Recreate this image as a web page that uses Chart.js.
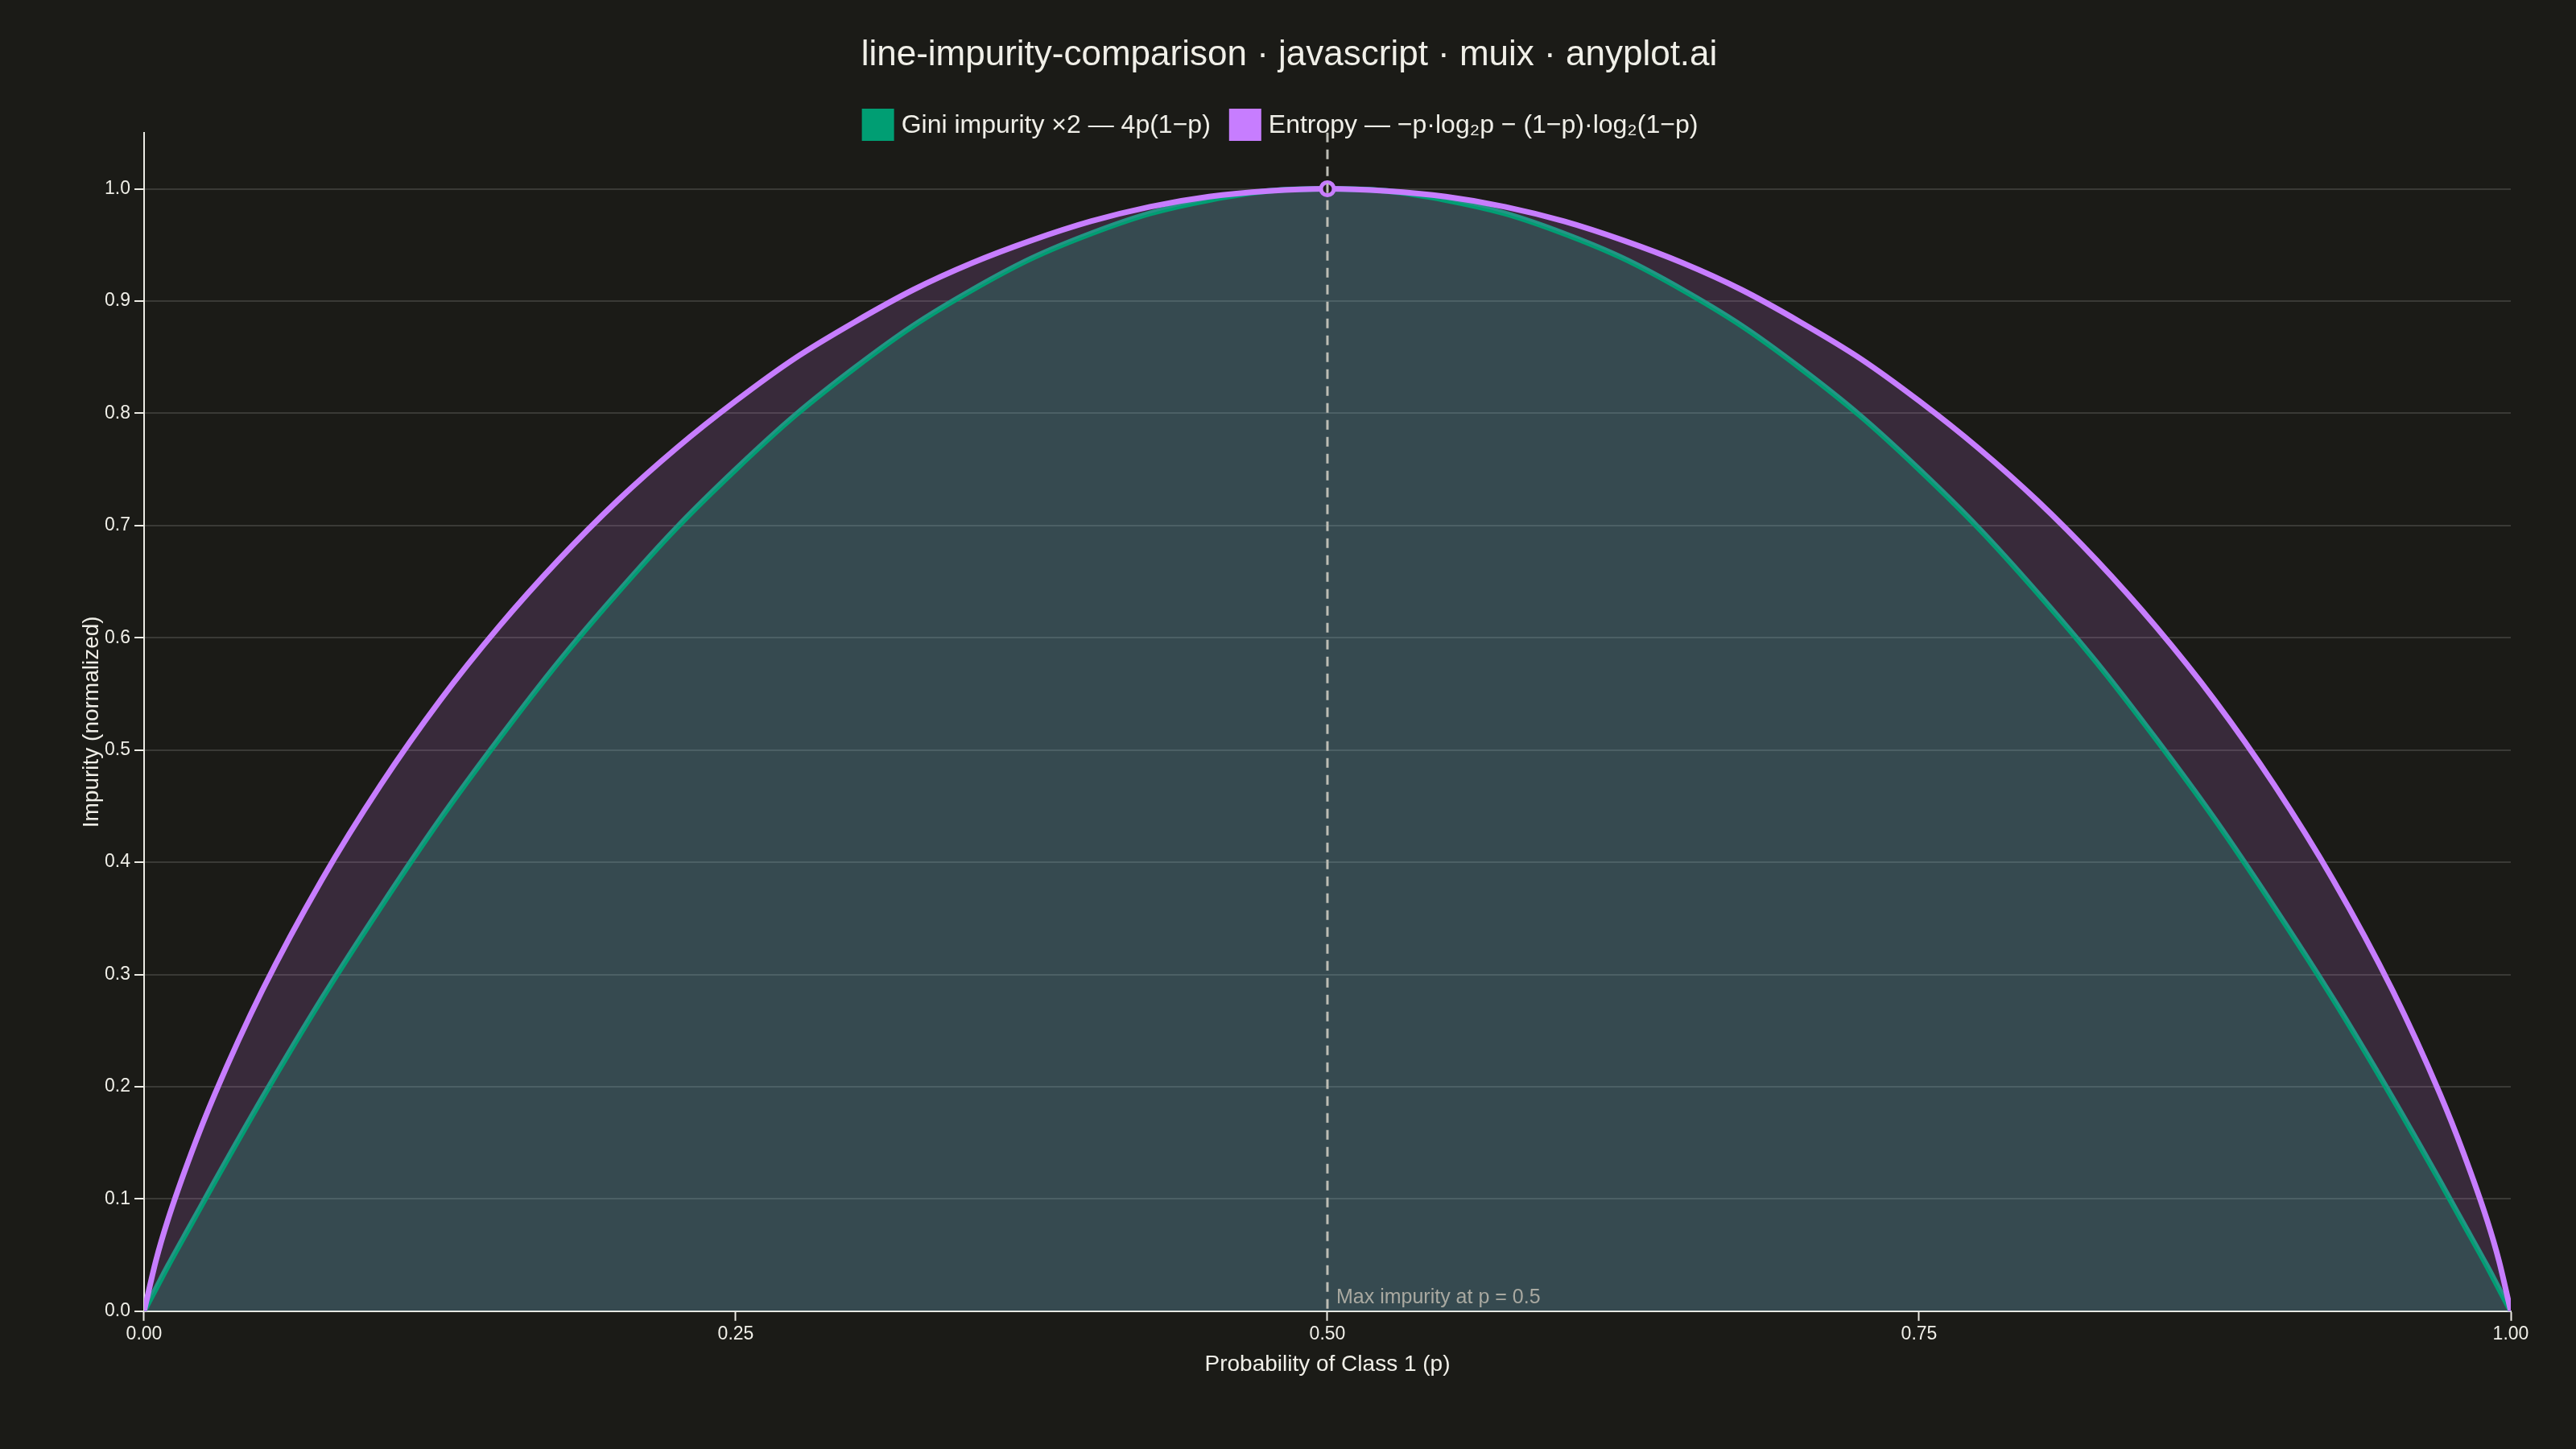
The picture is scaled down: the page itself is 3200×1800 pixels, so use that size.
<!DOCTYPE html>
<html>
<head>
<meta charset="utf-8">
<script src="https://cdn.jsdelivr.net/npm/chart.js@4/dist/chart.umd.min.js"></script>
<style>
  html, body { margin: 0; padding: 0; background: #1b1b17; }
  #c { display: block; }
</style>
</head>
<body>
<canvas id="c" width="3200" height="1800"></canvas>
<script>
// probability of class 1
const pValues = [0, 0.005, 0.01, 0.02, 0.03, 0.05, 0.075, 0.1, 0.125, 0.15, 0.175, 0.2, 0.225, 0.25,
  0.275, 0.3, 0.325, 0.35, 0.375, 0.4, 0.425, 0.45, 0.475, 0.5, 0.525, 0.55, 0.575, 0.6, 0.625, 0.65,
  0.675, 0.7, 0.725, 0.75, 0.775, 0.8, 0.825, 0.85, 0.875, 0.9, 0.925, 0.95, 0.97, 0.98, 0.99, 0.995, 1];

// gini impurity x2
const giniValues = [0, 0.020, 0.040, 0.078, 0.116, 0.190, 0.278, 0.360, 0.438, 0.510, 0.578, 0.640, 0.698, 0.750,
  0.798, 0.840, 0.878, 0.910, 0.938, 0.960, 0.978, 0.990, 0.998, 1.000, 0.998, 0.990, 0.978, 0.960, 0.938, 0.910,
  0.878, 0.840, 0.798, 0.750, 0.698, 0.640, 0.578, 0.510, 0.438, 0.360, 0.278, 0.190, 0.116, 0.078, 0.040, 0.020, 0];

// entropy
const entropyValues = [0, 0.045, 0.081, 0.141, 0.194, 0.286, 0.384, 0.469, 0.544, 0.610, 0.669, 0.722, 0.769, 0.811,
  0.849, 0.881, 0.910, 0.934, 0.954, 0.971, 0.984, 0.993, 0.998, 1.000, 0.998, 0.993, 0.984, 0.971, 0.954, 0.934,
  0.910, 0.881, 0.849, 0.811, 0.769, 0.722, 0.669, 0.610, 0.544, 0.469, 0.384, 0.286, 0.194, 0.141, 0.081, 0.045, 0];

const xTicks = [0, 0.25, 0.5, 0.75, 1];
const yTicks = [0, 0.1, 0.2, 0.3, 0.4, 0.5, 0.6, 0.7, 0.8, 0.9, 1.0];
const maxPoint = [{ x: 0.5, y: 1.0 }];

const FONT = '"Liberation Sans", Arial, sans-serif';
const TEXT = '#f0efe8';
const GREEN = '#009E73';
const PURPLE = '#C77DFF';

const toXY = vals => pValues.map((p, i) => ({ x: p, y: vals[i] }));

// dashed marker at p = 0.5 plus its note
const maxLine = {
  id: 'maxLine',
  afterDatasetsDraw(chart){
    const { ctx, chartArea, scales } = chart;
    const x = scales.x.getPixelForValue(0.5);
    ctx.save();
    ctx.strokeStyle = '#bdbdb5';
    ctx.lineWidth = 3;
    ctx.setLineDash([12, 9]);
    ctx.beginPath();
    ctx.moveTo(x, chartArea.top);
    ctx.lineTo(x, chartArea.bottom);
    ctx.stroke();
    ctx.setLineDash([]);
    ctx.fillStyle = '#a9a9a1';
    ctx.font = '25px ' + FONT;
    ctx.textBaseline = 'alphabetic';
    ctx.fillText('Max impurity at p = 0.5', x + 11, chartArea.bottom - 10);
    ctx.restore();
  }
};

// legend drawn by hand so it can sit tight on the plot top
const topLegend = {
  id: 'topLegend',
  afterDraw(chart){
    const { ctx } = chart;
    const items = chart.data.datasets.slice(0, 2);
    const box = 40, gap = 9, between = 23, cy = 155;
    ctx.save();
    ctx.font = '32px ' + FONT;
    ctx.textBaseline = 'middle';
    const widths = items.map(d => box + gap + ctx.measureText(d.label).width);
    const total = widths.reduce((a, b) => a + b, 0) + between * (items.length - 1);
    let x = 1590 - total / 2;
    items.forEach((d, i) => {
      ctx.fillStyle = d.borderColor;
      ctx.fillRect(x, cy - box / 2, box, box);
      ctx.fillStyle = TEXT;
      ctx.fillText(d.label, x + box + gap, cy + 1);
      x += widths[i] + between;
    });
    ctx.restore();
  }
};

new Chart(document.getElementById('c'), {
  type: 'line',
  data: {
    datasets: [
      {
        label: 'Gini impurity ×2 — 4p(1−p)',
        data: toXY(giniValues),
        borderColor: GREEN,
        backgroundColor: 'rgba(120,184,211,0.30)',
        borderWidth: 7,
        pointRadius: 0,
        fill: 'origin',
        order: 2,
        cubicInterpolationMode: 'monotone'
      },
      {
        label: 'Entropy — −p·log₂p − (1−p)·log₂(1−p)',
        data: toXY(entropyValues),
        borderColor: PURPLE,
        backgroundColor: 'rgba(185,112,215,0.19)',
        borderWidth: 7,
        pointRadius: 0,
        fill: '-1',
        order: 1,
        cubicInterpolationMode: 'monotone'
      },
      {
        label: 'max',
        data: maxPoint,
        showLine: false,
        pointRadius: 8,
        pointBorderWidth: 5,
        pointBorderColor: PURPLE,
        pointBackgroundColor: '#1b1b17',
        order: 0
      }
    ]
  },
  options: {
    responsive: false,
    devicePixelRatio: 1,
    animation: false,
    layout: { padding: { left: 84, right: 81, bottom: 84, top: 0 } },
    plugins: {
      title: {
        display: true,
        text: 'line-impurity-comparison · javascript · muix · anyplot.ai',
        color: TEXT,
        font: { family: FONT, size: 44, weight: 'normal' },
        padding: { top: 42, bottom: 70 }
      },
      legend: { display: false },
      tooltip: { enabled: false }
    },
    scales: {
      x: {
        type: 'linear',
        min: 0,
        max: 1,
        afterBuildTicks: s => { s.ticks = xTicks.map(v => ({ value: v })); },
        ticks: { color: TEXT, font: { family: FONT, size: 23 }, padding: 3, callback: v => Number(v).toFixed(2) },
        grid: { drawOnChartArea: false, tickLength: 12, tickColor: '#ecebe4', tickWidth: 2 },
        border: { color: '#ecebe4', width: 2 },
        title: { display: true, text: 'Probability of Class 1 (p)', color: TEXT, font: { family: FONT, size: 28 }, padding: { top: 4 } }
      },
      y: {
        min: 0,
        max: 1.05,
        afterBuildTicks: s => { s.ticks = yTicks.map(v => ({ value: v })); },
        ticks: { color: TEXT, font: { family: FONT, size: 23 }, padding: 5, callback: v => Number(v).toFixed(1) },
        grid: { color: '#3a3a36', lineWidth: 2, tickLength: 12, tickColor: '#ecebe4', tickWidth: 2 },
        border: { color: '#ecebe4', width: 2 },
        title: { display: true, text: 'Impurity (normalized)', color: TEXT, font: { family: FONT, size: 28, lineHeight: 1 }, padding: { top: 16, bottom: -3 } }
      }
    }
  },
  plugins: [maxLine, topLegend]
});
</script>
</body>
</html>
